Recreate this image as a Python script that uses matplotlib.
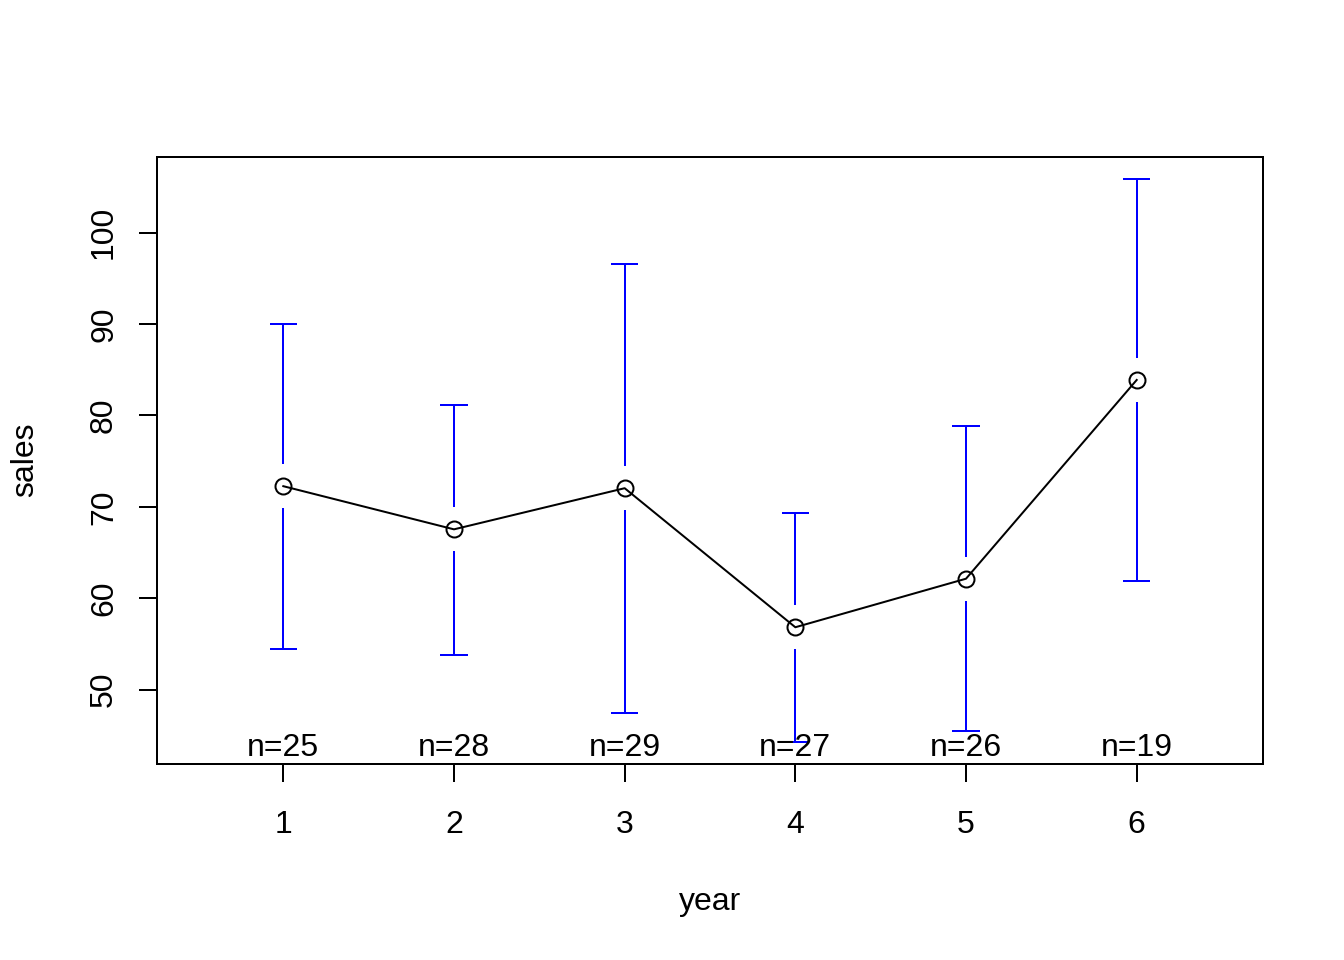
import matplotlib
matplotlib.use("Agg")
import matplotlib.pyplot as plt
import numpy as np

plt.rcParams['font.family'] = ['Liberation Sans', 'DejaVu Sans']

years = [1, 2, 3, 4, 5, 6]
means = [72.26, 67.54, 72.04, 56.83, 62.14, 83.88]
upper = [90.02, 81.14, 96.60, 69.38, 78.84, 105.81]
lower = [54.50, 53.84, 47.48, 44.33, 45.50, 61.84]
counts = [25, 28, 29, 27, 26, 19]

fig = plt.figure(figsize=(1344/144, 960/144), dpi=144)
ax = fig.add_axes([157/1344, 1 - 764/960, (1263-157)/1344, (764-157)/960])

x = np.array(years, dtype=float)
m = np.array(means)
up = np.array(upper)
lo = np.array(lower)

ylo, yhi = lo.min(), up.max()
pad = 0.04 * (yhi - ylo)
ax.set_ylim(ylo - pad, yhi + pad)
xl0, xl1 = 0.5, len(years) + 0.5
xpad = 0.04 * (xl1 - xl0)
ax.set_xlim(xl0 - xpad, xl1 + xpad)

fig.canvas.draw()
px_per_unit = (ax.transData.transform((0, 1))[1] - ax.transData.transform((0, 0))[1])
gap = 22.0 / px_per_unit
cap_px = 13.7
cap = cap_px / (ax.transData.transform((1, 0))[0] - ax.transData.transform((0, 0))[0])

blue = '#0000FF'
lw = 1.0
for xi, mi, ui, li in zip(x, m, up, lo):
    if ui > mi + gap:
        ax.plot([xi, xi], [mi + gap, ui], color=blue, lw=lw, solid_capstyle='butt')
    if li < mi - gap:
        ax.plot([xi, xi], [li, mi - gap], color=blue, lw=lw, solid_capstyle='butt')
    ax.plot([xi - cap, xi + cap], [ui, ui], color=blue, lw=lw, solid_capstyle='butt')
    ax.plot([xi - cap, xi + cap], [li, li], color=blue, lw=lw, solid_capstyle='butt')

ax.plot(x, m, color='black', lw=lw, marker='o', markersize=8, markerfacecolor='none',
        markeredgecolor='black', markeredgewidth=1.0)

fs = 16
for xi, n in zip(x, counts):
    ax.annotate(f"n={n}", xy=(xi, 0), xycoords=('data', 'axes fraction'),
                xytext=(0, 4.0), textcoords='offset points',
                ha='center', va='baseline', fontsize=fs, color='black')

ax.set_xticks(years)
ax.set_xticklabels([str(v) for v in years])
ax.set_yticks([50, 60, 70, 80, 90, 100])
ax.set_yticklabels(['50', '60', '70', '80', '90', '100'], rotation=90, va='center')
ax.tick_params(axis='both', length=9, width=1.0, labelsize=fs, direction='out')
ax.tick_params(axis='x', pad=14)
ax.tick_params(axis='y', pad=10)
for s in ax.spines.values():
    s.set_linewidth(1.0)

fig.text(710/1344, 1 - 902/960, 'year', ha='center', va='center', fontsize=fs)
fig.text(25/1344, 1 - 460/960, 'sales', ha='center', va='center', fontsize=fs, rotation=90)

fig.savefig('out.png', dpi=144, facecolor='white')
